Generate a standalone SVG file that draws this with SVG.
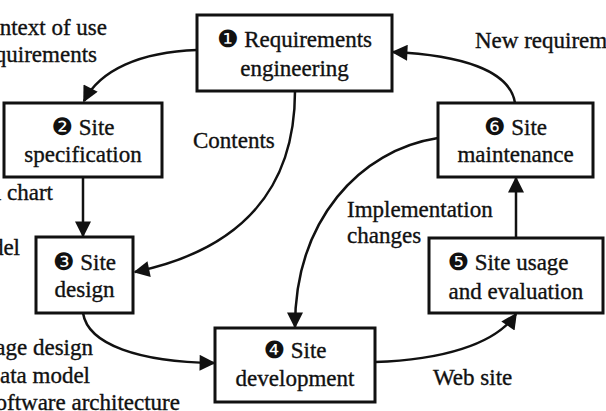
<svg xmlns="http://www.w3.org/2000/svg" width="606" height="411" viewBox="0 0 606 411">
<defs>
<style>
.box{fill:#fff;stroke:#111;stroke-width:3}
text{font-family:"Liberation Serif","Times New Roman",serif;font-size:23px;fill:#111;stroke:#111;stroke-width:0.35}
.c{text-anchor:middle}
.e{text-anchor:end}
.b{font-family:"DejaVu Sans",sans-serif;font-size:24px;stroke-width:0}
.conn path{fill:none;stroke:#111;stroke-width:2.5;marker-end:url(#arr)}
</style>
<marker id="arr" viewBox="0 0 10 10" refX="9" refY="5" markerWidth="18" markerHeight="16" markerUnits="userSpaceOnUse" orient="auto">
<path d="M0,0 L10,5 L0,10 z" fill="#111"/>
</marker>
</defs>
<rect width="606" height="411" fill="#fff"/>
<g id="connectors" class="conn">
<path d="M197,50 C140,52 100,70 84,101"/>
<path d="M83,177 L83,236"/>
<path d="M295,91 C295,190 240,250 135,272"/>
<path d="M83,313 C88,345 140,362 214,363"/>
<path d="M375,362 C440,360 495,345 516,314"/>
<path d="M516,238 L516,178"/>
<path d="M515,103 C510,70 460,55 393,52"/>
<path d="M438,138 C360,150 295,220 295,327"/>
</g>
<g id="n1">
<rect class="box" x="197" y="15" width="195" height="76"/>
<text class="c" x="294.5" y="47"><tspan class="b">❶</tspan> Requirements</text>
<text class="c" x="294.5" y="76">engineering</text>
</g>
<g id="n2">
<rect class="box" x="4" y="103" width="158" height="74"/>
<text class="c" x="83" y="135"><tspan class="b">❷</tspan> Site</text>
<text class="c" x="83" y="162">specification</text>
</g>
<g id="n3">
<rect class="box" x="36" y="237" width="97" height="76"/>
<text class="c" x="84.5" y="270"><tspan class="b">❸</tspan> Site</text>
<text class="c" x="84.5" y="297">design</text>
</g>
<g id="n4">
<rect class="box" x="215" y="328" width="160" height="74"/>
<text class="c" x="295" y="358"><tspan class="b">❹</tspan> Site</text>
<text class="c" x="295" y="386">development</text>
</g>
<g id="n5">
<rect class="box" x="429" y="238" width="174" height="75"/>
<text class="c" x="508" y="270"><tspan class="b">❺</tspan> Site usage</text>
<text class="c" x="516" y="299">and evaluation</text>
</g>
<g id="n6">
<rect class="box" x="438" y="103" width="155" height="74"/>
<text class="c" x="515.5" y="135"><tspan class="b">❻</tspan> Site</text>
<text class="c" x="515.5" y="162">maintenance</text>
</g>
<g id="labels">
<text class="e" x="107" y="35">ntext of use</text>
<text class="e" x="97" y="62">quirements</text>
<text class="e" x="53" y="200">l chart</text>
<text class="e" x="20" y="255">del</text>
<text class="e" x="93" y="355">age design</text>
<text class="e" x="90" y="383">ata model</text>
<text class="e" x="180" y="410">oftware architecture</text>
<text x="193" y="148">Contents</text>
<text x="347" y="217">Implementation</text>
<text x="347" y="243">changes</text>
<text x="433" y="385">Web site</text>
<text x="475" y="48">New requirem</text>
</g>
</svg>
